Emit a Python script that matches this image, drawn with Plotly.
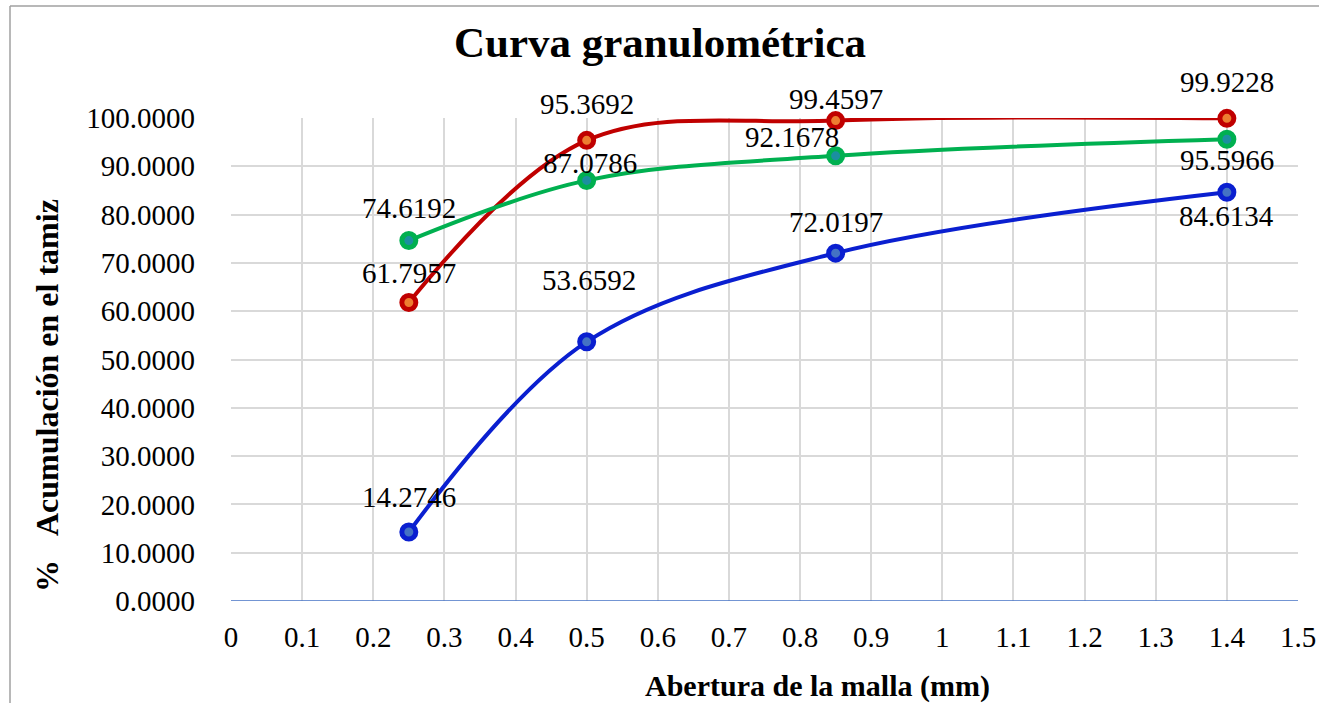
import plotly.graph_objects as go

x_mm = [0.25, 0.5, 0.85, 1.4]
red_vals = [61.7957, 95.3692, 99.4597, 99.9228]
green_vals = [74.6192, 87.0786, 92.1678, 95.5966]
blue_vals = [14.2746, 53.6592, 72.0197, 84.6134]

x_ticks = [0, 0.1, 0.2, 0.3, 0.4, 0.5, 0.6, 0.7, 0.8, 0.9, 1, 1.1, 1.2, 1.3, 1.4, 1.5]
x_tick_labels = ["0", "0.1", "0.2", "0.3", "0.4", "0.5", "0.6", "0.7", "0.8", "0.9",
                 "1", "1.1", "1.2", "1.3", "1.4", "1.5"]
y_ticks = [0, 10, 20, 30, 40, 50, 60, 70, 80, 90, 100]

FONT = "Liberation Serif, Times New Roman, serif"
FS = 29

series = [
    (red_vals, "#C00000", "#ED7D31", [(0, 30), (0, 36), (0, 22), (0, 36)]),
    (green_vals, "#00B050", "#1B8FA0", [(0, 33), (3, 17), (-44, 19), (0, -21)]),
    (blue_vals, "#0A1FD0", "#4472C4", [(0, 35), (2, 62), (0, 31), (0, -24)]),
]

fig = go.Figure()
annotations = []
for vals, lc, fc, offs in series:
    fig.add_trace(go.Scatter(
        x=x_mm, y=vals, mode="lines+markers",
        line=dict(color=lc, width=4, shape="spline", smoothing=1.0),
        marker=dict(size=14, color=fc, line=dict(color=lc, width=5)),
        showlegend=False, cliponaxis=False, hoverinfo="skip",
    ))
    for xv, yv, (dx, dy) in zip(x_mm, vals, offs):
        annotations.append(dict(
            x=xv, y=yv, xref="x", yref="y", text=f"{yv:.4f}", showarrow=False,
            xshift=dx, yshift=dy, font=dict(family=FONT, size=FS, color="#000000"),
        ))

W, H = 1319, 703
ml, mr, mt, mb = 231, 21, 118, 102
pw, ph = W - ml - mr, H - mt - mb

def px_to_paper_x(px):
    return (px - ml) / pw

def px_to_paper_y(py):
    return (H - mb - py) / ph

annotations.append(dict(
    text="<b>Abertura de la malla (mm)</b>", xref="paper", yref="paper",
    x=px_to_paper_x(817), y=px_to_paper_y(686), showarrow=False,
    xanchor="center", yanchor="middle", font=dict(family=FONT, size=30)))
annotations.append(dict(
    text="<b>%&nbsp;&nbsp;&nbsp;Acumulación en el tamiz</b>", xref="paper", yref="paper",
    x=px_to_paper_x(47), y=px_to_paper_y(396), showarrow=False, textangle=-90,
    xanchor="center", yanchor="middle", font=dict(family=FONT, size=32)))

frame = dict(color="#A0A0A0", width=1.5)

fig.update_layout(
    width=W, height=H,
    margin=dict(l=ml, r=mr, t=mt, b=mb, autoexpand=False),
    paper_bgcolor="white", plot_bgcolor="white",
    font=dict(family=FONT, size=FS, color="#000000"),
    title=dict(text="<b>Curva granulométrica</b>", x=px_to_paper_x(660), xref="paper",
               xanchor="center", y=1 - 42 / H, yanchor="middle",
               font=dict(family=FONT, size=43, color="#000000")),
    xaxis=dict(range=[0, 1.5], tickvals=x_ticks, ticktext=x_tick_labels,
               showgrid=True, gridcolor="#D9D9D9", gridwidth=1.5,
               zeroline=False, showline=False, automargin=False,
               ticks="", ticklabelstandoff=16,
               tickfont=dict(family=FONT, size=FS)),
    yaxis=dict(range=[0, 100], tickvals=y_ticks, tickformat=".4f",
               showgrid=True, gridcolor="#D9D9D9", gridwidth=1.5,
               zeroline=False, showline=False, automargin=False,
               ticks="", ticklabelstandoff=35,
               tickfont=dict(family=FONT, size=FS)),
    annotations=annotations,
    hovermode=False,
    shapes=[
        dict(type="line", xref="paper", yref="y", x0=0, x1=1, y0=0, y1=0,
             line=dict(color="#4472C4", width=1.5), layer="above"),
        dict(type="line", xref="paper", yref="paper",
             x0=px_to_paper_x(10), x1=px_to_paper_x(1319),
             y0=px_to_paper_y(6), y1=px_to_paper_y(6), line=frame),
        dict(type="line", xref="paper", yref="paper",
             x0=px_to_paper_x(10), x1=px_to_paper_x(10),
             y0=px_to_paper_y(6), y1=px_to_paper_y(703), line=frame),
    ],
)

fig.write_html(
    "out.html",
    config={"displayModeBar": False},
    post_script="document.body.style.margin='0';document.body.style.overflow='hidden';",
)
